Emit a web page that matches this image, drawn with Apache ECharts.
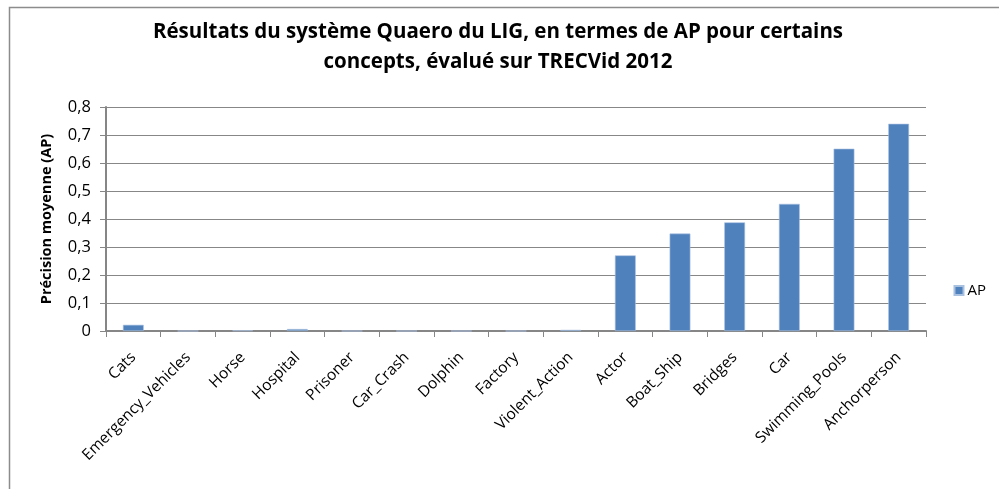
<!DOCTYPE html>
<html>
<head>
<meta charset="utf-8">
<script src="https://cdn.jsdelivr.net/npm/echarts@6/dist/echarts.min.js"></script>
<style>
    html, body { margin: 0; padding: 0; background: #fff; }
    #chart { width: 999px; height: 489px; }
</style>
</head>
<body>
<div id="chart"></div>
<script>
// concepts, in the order shown on the x axis
const categories = [
    "Cats", "Emergency_Vehicles", "Horse", "Hospital", "Prisoner", "Car_Crash",
    "Dolphin", "Factory", "Violent_Action", "Actor", "Boat_Ship", "Bridges",
    "Car", "Swimming_Pools", "Anchorperson",
];
// average precision
const apValues = [
    0.022, 0, 0.002, 0.007, 0, 0,
    0, 0, 0.004, 0.27, 0.348, 0.388,
    0.454, 0.651, 0.74,
];
const yTicks = [0, 0.1, 0.2, 0.3, 0.4, 0.5, 0.6, 0.7, 0.8];

const font = "'Open Sans', 'Noto Sans', sans-serif";
const barBlue = "#4f81bd";

const chart = echarts.init(document.getElementById("chart"), null, { renderer: "canvas" });

chart.setOption({
    animation: false,
    textStyle: { fontFamily: font },
    graphic: [
        {
            type: "rect",
            shape: { x: 9.5, y: 7.5, width: 1200, height: 800 },
            style: { fill: "none", stroke: "#8c8c8c", lineWidth: 1.5 },
            silent: true,
        },
    ],
    title: {
        text: "Résultats du système Quaero du LIG, en termes de AP pour certains\nconcepts, évalué sur TRECVid 2012",
        left: 493,
        top: 12,
        textAlign: "center",
        textStyle: {
            fontFamily: font,
            fontSize: 20.5,
            fontWeight: "bold",
            color: "#000",
            lineHeight: 30,
        },
    },
    legend: {
        data: ["AP"],
        right: 8,
        top: 278,
        itemWidth: 9,
        itemHeight: 9,
        itemGap: 4,
        icon: "rect",
        textStyle: { fontFamily: font, fontSize: 15, color: "#000", padding: [0, 0, 0, -1] },
    },
    grid: {
        left: 106,
        right: 73,
        top: 107,
        bottom: 158,
        containLabel: false,
    },
    xAxis: {
        type: "category",
        data: categories,
        axisLine: { lineStyle: { color: "#868686", width: 2 } },
        axisTick: { show: true, length: 6, lineStyle: { color: "#868686", width: 1 } },
        axisLabel: {
            interval: 0,
            rotate: 45,
            fontFamily: font,
            fontSize: 15.5,
            color: "#000",
            margin: 24,
        },
    },
    yAxis: {
        type: "value",
        min: 0,
        max: 0.8,
        interval: 0.1,
        name: "Précision moyenne (AP)",
        nameLocation: "middle",
        nameGap: 52,
        nameTextStyle: { fontFamily: font, fontSize: 14.5, fontWeight: "bold", color: "#000" },
        axisLine: { show: true, lineStyle: { color: "#868686", width: 2 } },
        axisTick: { show: true, length: 6, lineStyle: { color: "#868686" } },
        splitLine: { lineStyle: { color: "#878787", width: 1 } },
        axisLabel: {
            fontFamily: font,
            fontSize: 16.5,
            color: "#000",
            margin: 15,
            formatter: (v) => {
                const t = yTicks.find((x) => Math.abs(x - v) < 1e-9);
                return t === 0 ? "0" : String(t === undefined ? v : t).replace(".", ",");
            },
        },
    },
    series: [
        {
            name: "AP",
            type: "bar",
            data: apValues,
            barCategoryGap: "62%",
            itemStyle: { color: barBlue, borderColor: "#a9c1e0", borderWidth: 0.6 },
        },
    ],
});
</script>
</body>
</html>
